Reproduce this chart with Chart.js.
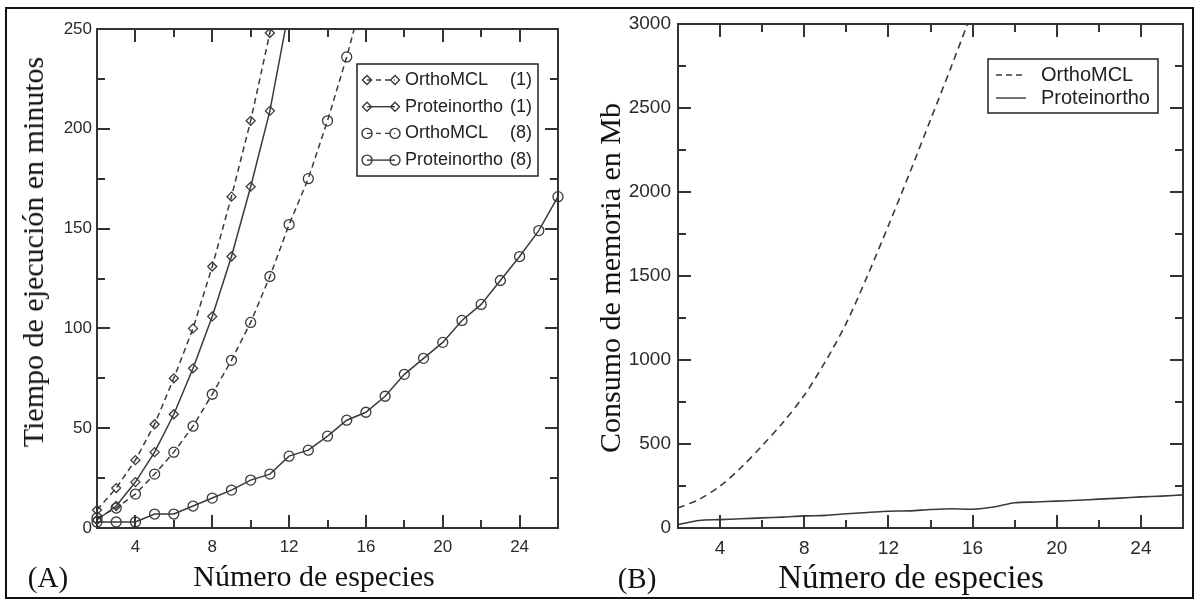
<!DOCTYPE html>
<html>
<head>
<meta charset="utf-8">
<script src="https://cdn.jsdelivr.net/npm/chart.js@4.4.1/dist/chart.umd.min.js"></script>
<style>
  body { margin: 0; background: #fff; }
  #wrap { position: relative; width: 1198px; height: 604px; overflow: hidden; }
  #frame { position: absolute; left: 5px; top: 7px; width: 1185px; height: 588px; border: 2px solid #111; }
  canvas { position: absolute; top: 0; }
  .over { pointer-events: none; }
  .lbl { position: absolute; font-family: "Liberation Serif", "Times New Roman", serif; color: #111;
         white-space: nowrap; line-height: 1; transform: translate(-50%, -50%); }
  .rot { transform: translate(-50%, -50%) rotate(-90deg); }
</style>
</head>
<body>
<div id="wrap">
  <div id="frame"></div>
  <canvas id="tiempo" width="580" height="604" style="left:0"></canvas>
  <canvas id="memoria" width="618" height="604" style="left:580px"></canvas>
  <canvas id="ejesA" class="over" width="580" height="604" style="left:0"></canvas>
  <canvas id="ejesB" class="over" width="618" height="604" style="left:580px"></canvas>
  <div class="lbl rot" style="left:33px; top:252px; font-size:30px">Tiempo de ejecución en minutos</div>
  <div class="lbl" style="left:314px; top:576px; font-size:30px">Número de especies</div>
  <div class="lbl" style="left:48px; top:577px; font-size:29px">(A)</div>
  <div class="lbl rot" style="left:610px; top:278px; font-size:30px">Consumo de memoria en Mb</div>
  <div class="lbl" style="left:911px; top:577px; font-size:33px">Número de especies</div>
  <div class="lbl" style="left:637px; top:578px; font-size:29px">(B)</div>
</div>
<script>
// numero de especies (x)
var species = [2, 3, 4, 5, 6, 7, 8, 9, 10, 11, 12, 13, 14, 15, 16, 17, 18, 19, 20, 21, 22, 23, 24, 25, 26];

// (A) tiempo de ejecucion en minutos
var orthoMCL1 = [9, 20, 34, 52, 75, 100, 131, 166, 204, 248, 295];
var proteinortho1 = [4, 11, 23, 38, 57, 80, 106, 136, 171, 209, 260];
var orthoMCL8 = [5, 10, 17, 27, 38, 51, 67, 84, 103, 126, 152, 175, 204, 236, 272];
var proteinortho8 = [3, 3, 3, 7, 7, 11, 15, 19, 24, 27, 36, 39, 46, 54, 58, 66, 77, 85, 93, 104, 112, 124, 136, 149, 166];
var seriesNames = ["OrthoMCL", "Proteinortho", "OrthoMCL", "Proteinortho"];
var threads = ["(1)", "(1)", "(8)", "(8)"];

// (B) consumo de memoria en Mb
var orthoMem = [120, 170, 250, 360, 490, 630, 790, 990, 1220, 1500, 1800, 2110, 2430, 2750, 3080];
var protMem = [20, 45, 50, 55, 60, 65, 72, 75, 85, 92, 100, 102, 110, 115, 112, 125, 150, 155, 160, 165, 172, 178, 185, 190, 197];
var memNames = ["OrthoMCL", "Proteinortho"];

var xTicks = [4, 8, 12, 16, 20, 24];
var yTicksA = [0, 50, 100, 150, 200, 250];
var yTicksB = [0, 500, 1000, 1500, 2000, 2500, 3000];

var ink = '#3a3a3a';

function pts(vals) {
    return vals.map(function (v, i) { return {x: species[i], y: v}; });
}

// frame box + inward ticks, drawn on an overlay canvas from the chart's scales
function drawFrame(chart, canvasId, xMinor, xMajor, yMinor, yMajor) {
    var ctx = document.getElementById(canvasId).getContext('2d');
    var a = chart.chartArea, sx = chart.scales.x, sy = chart.scales.y;
    ctx.strokeStyle = '#333';
    ctx.lineWidth = 2;
    ctx.strokeRect(a.left, a.top, a.right - a.left, a.bottom - a.top);
    ctx.beginPath();
    for (var v = sx.min; v <= sx.max; v += xMinor) {
        var px = Math.round(sx.getPixelForValue(v));
        var len = v % xMajor === 0 ? 13 : 8;
        ctx.moveTo(px, a.bottom); ctx.lineTo(px, a.bottom - len);
        ctx.moveTo(px, a.top); ctx.lineTo(px, a.top + len);
    }
    for (var w = sy.min; w <= sy.max; w += yMinor) {
        var py = Math.round(sy.getPixelForValue(w));
        var l2 = w % yMajor === 0 ? 13 : 8;
        ctx.moveTo(a.left, py); ctx.lineTo(a.left + l2, py);
        ctx.moveTo(a.right, py); ctx.lineTo(a.right - l2, py);
    }
    ctx.stroke();
}

function marker(ctx, style, x, y) {
    ctx.beginPath();
    if (style === 'circle') {
        ctx.arc(x, y, 5, 0, Math.PI * 2);
    } else {
        ctx.moveTo(x, y - 4.5); ctx.lineTo(x + 4.5, y); ctx.lineTo(x, y + 4.5); ctx.lineTo(x - 4.5, y); ctx.closePath();
    }
    ctx.stroke();
}

// legend box drawn inside the plot
function boxLegend(o) {
    return {
        id: 'boxLegend',
        afterDraw: function (chart) {
            var ctx = chart.ctx;
            ctx.save();
            ctx.fillStyle = '#fff';
            ctx.fillRect(o.left, o.top, o.width, o.height);
            ctx.strokeStyle = '#222';
            ctx.lineWidth = 1.5;
            ctx.strokeRect(o.left, o.top, o.width, o.height);
            ctx.font = o.fontSize + 'px "Liberation Sans", Arial, sans-serif';
            ctx.textBaseline = 'middle';
            chart.data.datasets.forEach(function (ds, i) {
                var yy = o.top + o.first + i * o.step;
                ctx.strokeStyle = ink;
                ctx.lineWidth = 1.4;
                ctx.setLineDash(ds.borderDash && ds.borderDash.length ? o.dash : []);
                ctx.beginPath();
                ctx.moveTo(o.x1, yy); ctx.lineTo(o.x2, yy);
                ctx.stroke();
                ctx.setLineDash([]);
                if (ds.pointStyle) {
                    marker(ctx, ds.pointStyle, o.x1, yy);
                    marker(ctx, ds.pointStyle, o.x2, yy);
                }
                ctx.fillStyle = '#222';
                ctx.textAlign = 'left';
                ctx.fillText(ds.label, o.textX, yy);
                if (ds.suffix) {
                    ctx.textAlign = 'right';
                    ctx.fillText(ds.suffix, o.suffixX, yy);
                }
            });
            ctx.restore();
        }
    };
}

function hideAbove(max, r) {
    return function (c) { return c.parsed && c.parsed.y > max ? 0 : r; };
}

var tickFont = function (size) {
    return {family: '"Liberation Sans", Arial, sans-serif', size: size};
};

var plain = function (v) { return String(v); };

var dsA = [orthoMCL1, proteinortho1, orthoMCL8, proteinortho8].map(function (vals, i) {
    return {
        label: seriesNames[i],
        suffix: threads[i],
        data: pts(vals),
        borderColor: ink,
        borderWidth: 1.5,
        borderDash: i % 2 === 0 ? [6, 4] : [],
        pointStyle: i < 2 ? 'rectRot' : 'circle',
        pointRadius: hideAbove(252, i < 2 ? 4.5 : 5),
        pointBorderColor: ink,
        pointBorderWidth: 1.3,
        pointBackgroundColor: 'rgba(0,0,0,0)',
        tension: 0,
        clip: {left: 8, right: 8, top: 1, bottom: 8}
    };
});

var chartA = new Chart(document.getElementById('tiempo').getContext('2d'), {
    type: 'line',
    data: {datasets: dsA},
    plugins: [
        boxLegend({left: 357, top: 64, width: 181, height: 112, first: 16, step: 26.7,
                   x1: 367, x2: 395, textX: 405, suffixX: 532, fontSize: 18, dash: [5, 4]})
    ],
    options: {
        responsive: false,
        animation: false,
        devicePixelRatio: 1,
        layout: {padding: {left: 0, top: 29, right: 22, bottom: 0}},
        scales: {
            x: {
                type: 'linear', min: 2, max: 26,
                grid: {display: false, drawTicks: false},
                border: {display: false},
                afterBuildTicks: function (s) { s.ticks = xTicks.map(function (v) { return {value: v}; }); },
                afterFit: function (s) { s.height = 76; },
                ticks: {font: tickFont(17), color: '#2a2a2a', padding: 9, maxRotation: 0, callback: plain}
            },
            y: {
                min: 0, max: 250,
                grid: {display: false, drawTicks: false},
                border: {display: false},
                afterBuildTicks: function (s) { s.ticks = yTicksA.map(function (v) { return {value: v}; }); },
                afterFit: function (s) { s.width = 97; },
                ticks: {font: tickFont(17), color: '#2a2a2a', padding: 5, callback: plain}
            }
        },
        plugins: {
            legend: {display: false},
            tooltip: {enabled: false}
        }
    }
});

var dsB = [orthoMem, protMem].map(function (vals, i) {
    return {
        label: memNames[i],
        data: pts(vals),
        borderColor: ink,
        borderWidth: 1.6,
        borderDash: i === 0 ? [7, 5] : [],
        pointRadius: 0,
        tension: 0.3,
        clip: {left: 2, right: 2, top: 0, bottom: 2}
    };
});

var chartB = new Chart(document.getElementById('memoria').getContext('2d'), {
    type: 'line',
    data: {datasets: dsB},
    plugins: [
        boxLegend({left: 408, top: 59, width: 170, height: 54, first: 16, step: 23,
                   x1: 416, x2: 446, textX: 461, fontSize: 20, dash: [6, 4]})
    ],
    options: {
        responsive: false,
        animation: false,
        devicePixelRatio: 1,
        layout: {padding: {left: 0, top: 24, right: 15, bottom: 0}},
        scales: {
            x: {
                type: 'linear', min: 2, max: 26,
                grid: {display: false, drawTicks: false},
                border: {display: false},
                afterBuildTicks: function (s) { s.ticks = xTicks.map(function (v) { return {value: v}; }); },
                afterFit: function (s) { s.height = 76; },
                ticks: {font: tickFont(19), color: '#2a2a2a', padding: 9, maxRotation: 0, callback: plain}
            },
            y: {
                min: 0, max: 3000,
                grid: {display: false, drawTicks: false},
                border: {display: false},
                afterBuildTicks: function (s) { s.ticks = yTicksB.map(function (v) { return {value: v}; }); },
                afterFit: function (s) { s.width = 98; },
                ticks: {font: tickFont(19), color: '#2a2a2a', padding: 7, callback: plain}
            }
        },
        plugins: {
            legend: {display: false},
            tooltip: {enabled: false}
        }
    }
});

drawFrame(chartA, 'ejesA', 2, 4, 25, 50);
drawFrame(chartB, 'ejesB', 2, 4, 250, 500);
</script>
</body>
</html>
